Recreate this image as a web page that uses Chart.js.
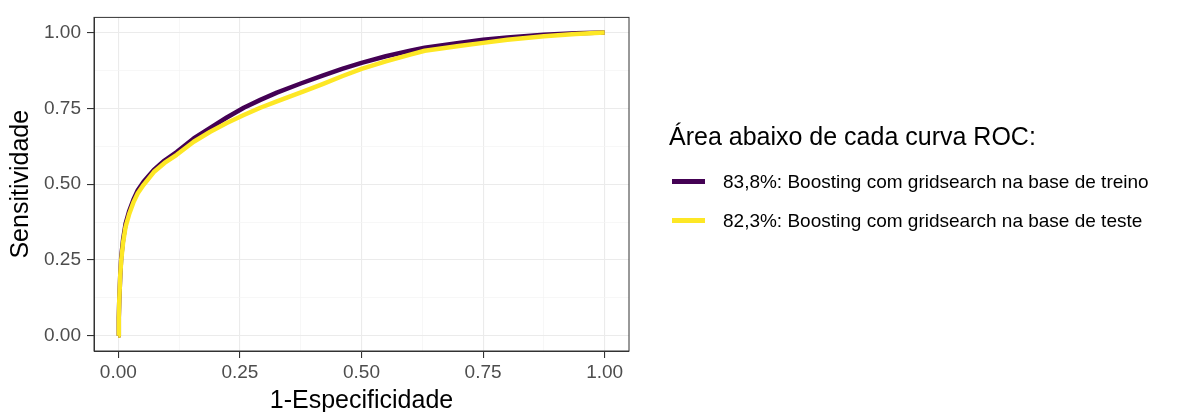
<!DOCTYPE html>
<html>
<head>
<meta charset="utf-8">
<script src="https://cdn.jsdelivr.net/npm/chart.js@4"></script>
<style>
  body { margin: 0; background: #fff; }
  #wrap { position: relative; width: 1186px; height: 412px; overflow: hidden; }
  #legend { position: absolute; left: 0; top: 0; font-family: "Liberation Sans", Arial, sans-serif; }
  #legend .title { position: absolute; left: 669px; top: 124px; font-size: 25px; line-height: 25px; white-space: nowrap; color: #000; }
  #legend .key { position: absolute; left: 672px; width: 33px; height: 5px; }
  #legend .label { position: absolute; left: 723px; font-size: 19px; line-height: 19px; white-space: nowrap; color: #000; }
</style>
</head>
<body>
<div id="wrap">
  <canvas id="chart" width="1186" height="412"></canvas>
  <div id="legend"></div>
</div>
<script>
// ROC curves (x = 1 - especificidade, y = sensitividade)
const fprTrain = [0, 0.001, 0.002, 0.004, 0.006, 0.01, 0.015, 0.022, 0.031, 0.04, 0.052, 0.073, 0.095, 0.12, 0.155, 0.189, 0.223, 0.258, 0.292, 0.326, 0.375, 0.42, 0.46, 0.5, 0.55, 0.6, 0.63, 0.7, 0.75, 0.8, 0.875, 0.94, 1];
const tprTrain = [0, 0.06, 0.12, 0.2, 0.26, 0.32, 0.37, 0.41, 0.449, 0.48, 0.508, 0.547, 0.578, 0.606, 0.651, 0.686, 0.72, 0.752, 0.778, 0.802, 0.832, 0.858, 0.88, 0.9, 0.922, 0.94, 0.95, 0.966, 0.976, 0.984, 0.993, 0.998, 1];
const fprTest = [0, 0.001, 0.002, 0.004, 0.006, 0.01, 0.015, 0.022, 0.031, 0.04, 0.052, 0.073, 0.095, 0.12, 0.155, 0.189, 0.223, 0.258, 0.292, 0.326, 0.381, 0.42, 0.46, 0.5, 0.55, 0.6, 0.63, 0.7, 0.75, 0.8, 0.875, 0.94, 1];
const tprTest = [0, 0.06, 0.12, 0.2, 0.25, 0.31, 0.36, 0.4, 0.44, 0.47, 0.498, 0.54, 0.57, 0.597, 0.64, 0.673, 0.702, 0.728, 0.752, 0.773, 0.806, 0.83, 0.856, 0.88, 0.905, 0.927, 0.94, 0.956, 0.966, 0.976, 0.988, 0.995, 1];

const seriesLabels = [
  "83,8%: Boosting com gridsearch na base de treino",
  "82,3%: Boosting com gridsearch na base de teste"
];
const legendTitle = "Área abaixo de cada curva ROC:";

const majorTicks = [0, 0.25, 0.5, 0.75, 1];
const gridTicks = [0, 0.125, 0.25, 0.375, 0.5, 0.625, 0.75, 0.875, 1];

const PURPLE = "#440154";
const YELLOW = "#FDE725";
const FONT = "'Liberation Sans', Arial, sans-serif";

const toPoints = (xs, ys) => xs.map((x, i) => ({ x: x, y: ys[i] }));
const isMajor = (v) => majorTicks.some((m) => Math.abs(m - v) < 1e-9);

const axis = (title, tickPad, size, titlePad) => ({
  type: "linear",
  min: -0.05,
  max: 1.05,
  afterBuildTicks: (scale) => { scale.ticks = gridTicks.map((v) => ({ value: v })); },
  afterFit: (scale) => { if (scale.isHorizontal()) scale.height = size; else scale.width = size; },
  grid: {
    color: (c) => (isMajor(c.tick.value) ? "#ebebeb" : "#f3f3f3"),
    lineWidth: (c) => (isMajor(c.tick.value) ? 1.1 : 0.7),
    tickColor: (c) => (isMajor(c.tick.value) ? "#333333" : "rgba(0,0,0,0)"),
    tickWidth: 1.1,
    tickLength: 7,
  },
  border: { color: "#333333", width: 1 },
  ticks: {
    autoSkip: false,
    maxRotation: 0,
    padding: tickPad,
    color: "#4d4d4d",
    font: { family: FONT, size: 19 },
    callback: (v) => (isMajor(v) ? Number(v).toFixed(2) : ""),
  },
  title: {
    display: true,
    text: title,
    color: "#000",
    font: { family: FONT, size: 25, lineHeight: 1 },
    padding: titlePad,
  },
});

const panelBorder = {
  id: "panelBorder",
  afterDatasetsDraw(chart) {
    const { ctx, chartArea: a } = chart;
    ctx.save();
    ctx.strokeStyle = "#333333";
    ctx.lineWidth = 1;
    ctx.strokeRect(a.left, a.top, a.right - a.left, a.bottom - a.top);
    ctx.restore();
  },
};

const chart = new Chart(document.getElementById("chart"), {
  type: "line",
  data: {
    datasets: [
      { label: seriesLabels[0], data: toPoints(fprTrain, tprTrain), borderColor: PURPLE, backgroundColor: PURPLE, order: 2 },
      { label: seriesLabels[1], data: toPoints(fprTest, tprTest), borderColor: YELLOW, backgroundColor: YELLOW, order: 1 },
    ],
  },
  options: {
    responsive: false,
    animation: false,
    layout: { padding: { top: 15, right: 557, bottom: 0, left: 0 } },
    elements: {
      line: { borderWidth: 4.5, tension: 0, borderJoinStyle: "round" },
      point: { radius: 0, hoverRadius: 0 },
    },
    plugins: { legend: { display: false }, tooltip: { enabled: false } },
    scales: {
      x: axis("1-Especificidade", 3, 61, { top: 0, bottom: -2 }),
      y: axis("Sensitividade", 6, 94, { top: 9, bottom: 0 }),
    },
  },
  plugins: [panelBorder],
});

// legend built from the chart's own datasets
const legend = document.getElementById("legend");
const t = document.createElement("div");
t.className = "title";
t.textContent = legendTitle;
legend.appendChild(t);
const itemCenters = [181, 220.5];
chart.data.datasets.forEach((ds, i) => {
  const key = document.createElement("div");
  key.className = "key";
  key.style.top = (itemCenters[i] - 2.5) + "px";
  key.style.background = ds.borderColor;
  legend.appendChild(key);
  const lab = document.createElement("div");
  lab.className = "label";
  lab.style.top = (itemCenters[i] - 9.3) + "px";
  lab.textContent = ds.label;
  legend.appendChild(lab);
});
</script>
</body>
</html>
